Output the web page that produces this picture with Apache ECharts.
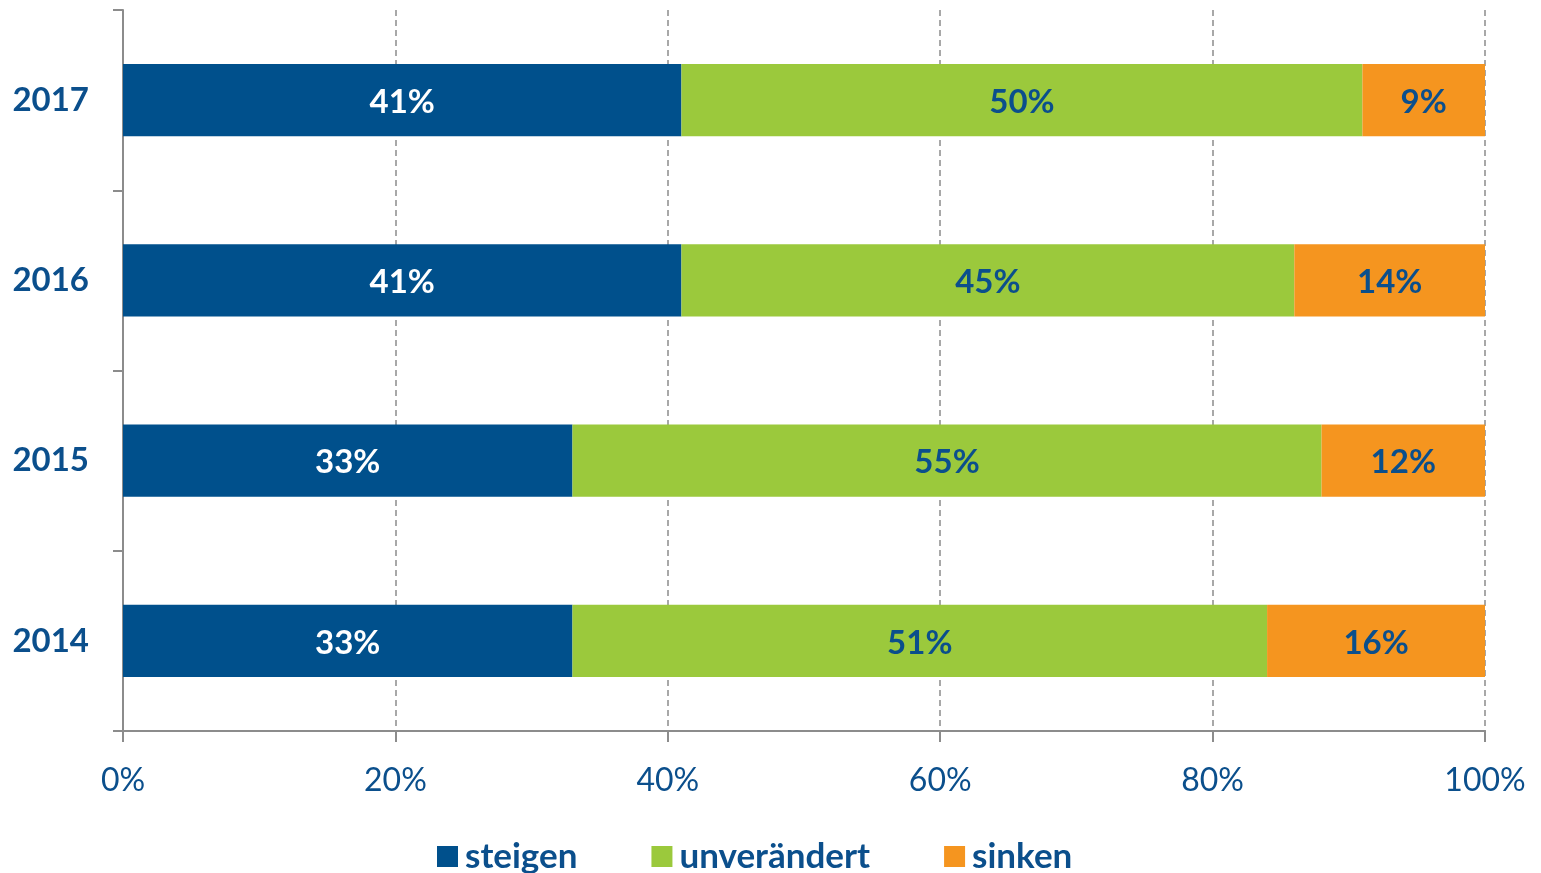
<!DOCTYPE html>
<html>
    <head>
        <meta charset="utf-8">
        <title>steigen / unverändert / sinken</title>
        <script src="https://cdn.jsdelivr.net/npm/echarts@6/dist/echarts.min.js"></script>
        <style>
            body{margin:0;background:#fff;}
        </style>
    </head>
    <body>
        <div id="chart" style="width:1541px;height:873px;"></div>
        <script type="text/javascript">
            // years, bottom to top
            var years=["2014","2015","2016","2017"];
            var steigen=[33,33,41,41];
            var unveraendert=[51,55,45,50];
            var sinken=[16,12,14,9];
            var xTicks=[0,20,40,60,80,100];

            var blue="#00508c", green="#9bc93c", orange="#f5951f";
            var textBlue="#0b4f8c";
            var font="Lato, 'Open Sans', sans-serif";

            var myChart=echarts.init(document.getElementById('chart'));

            function bar(name,data,color,labelColor){
                return {
                    name:name,
                    type:"bar",
                    stack:"total",
                    barWidth:"40%",
                    data:data,
                    itemStyle:{color:color},
                    label:{show:true,position:"inside",formatter:"{c}%",offset:[0,2],
                        color:labelColor,fontSize:33,fontWeight:"bold",fontFamily:font}
                };
            }

            var option={
                animation:false,
                grid:{left:123,right:56,top:10,bottom:142,containLabel:false},
                legend:{
                    top:834,left:432,
                    itemWidth:21,itemHeight:21,itemGap:74,
                    icon:"rect",
                    textStyle:{color:textBlue,fontSize:35,fontWeight:"bold",fontFamily:font,padding:[0,0,0,2]},
                    data:["steigen","unverändert","sinken"]
                },
                xAxis:{
                    type:"value",min:0,max:100,interval:20,
                    axisLine:{show:true,lineStyle:{color:"#8c8c8c",width:2}},
                    axisTick:{show:true,length:11,lineStyle:{color:"#8c8c8c",width:2}},
                    axisLabel:{formatter:function(v){return xTicks.indexOf(v)>=0?v+"%":"";},
                        color:textBlue,fontSize:32,fontFamily:font,margin:34},
                    splitLine:{show:true,lineStyle:{color:"#8c8c8c",type:[6,4],width:1.5}}
                },
                yAxis:{
                    type:"category",data:years,
                    axisLine:{show:true,lineStyle:{color:"#8c8c8c",width:2}},
                    axisTick:{show:true,length:10,lineStyle:{color:"#8c8c8c",width:2}},
                    axisLabel:{color:textBlue,fontSize:33,fontWeight:"bold",fontFamily:font,margin:34},
                    splitLine:{show:false}
                },
                series:[
                    bar("steigen",steigen,blue,"#ffffff"),
                    bar("unverändert",unveraendert,green,textBlue),
                    bar("sinken",sinken,orange,textBlue)
                ]
            };

            myChart.setOption(option);
        </script>
    </body>
</html>
